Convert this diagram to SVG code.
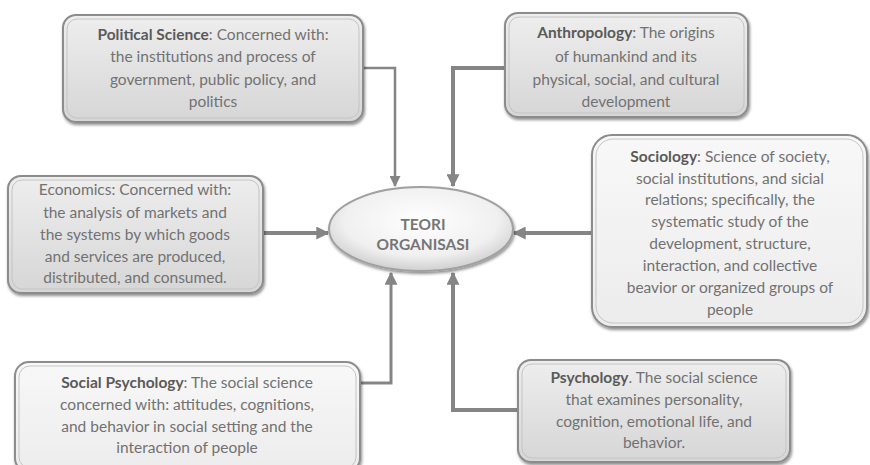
<svg xmlns="http://www.w3.org/2000/svg" width="870" height="465" viewBox="0 0 870 465">
  <defs>
    <linearGradient id="boxFillDark" x1="0" y1="0" x2="0" y2="1">
      <stop offset="0" stop-color="#eeeeee"/>
      <stop offset="1" stop-color="#d6d6d6"/>
    </linearGradient>
    <linearGradient id="boxFillLight" x1="0" y1="0" x2="0" y2="1">
      <stop offset="0" stop-color="#f8f8f8"/>
      <stop offset="1" stop-color="#ececec"/>
    </linearGradient>
    <radialGradient id="hubFill" cx="0.5" cy="0.4" r="0.6">
      <stop offset="0" stop-color="#ffffff"/>
      <stop offset="0.7" stop-color="#f0f0f0"/>
      <stop offset="1" stop-color="#cfcfcf"/>
    </radialGradient>
    <filter id="shadow" x="-10%" y="-10%" width="125%" height="130%">
      <feGaussianBlur in="SourceAlpha" stdDeviation="1.5"/>
      <feOffset dx="1" dy="2" result="b"/>
      <feComponentTransfer><feFuncA type="linear" slope="0.45"/></feComponentTransfer>
      <feMerge><feMergeNode/><feMergeNode in="SourceGraphic"/></feMerge>
    </filter>
    <marker id="head" viewBox="0 0 10 10" refX="9" refY="5" markerWidth="13" markerHeight="13" markerUnits="userSpaceOnUse" orient="auto">
      <path d="M0,0 L10,5 L0,10 Z" fill="#858585"/>
    </marker>
    <marker id="headSmall" viewBox="0 0 10 10" refX="9" refY="5" markerWidth="11" markerHeight="11" markerUnits="userSpaceOnUse" orient="auto">
      <path d="M0,0 L10,5 L0,10 Z" fill="#858585"/>
    </marker>
  </defs>
  <style>
    .box { stroke: #8c8c8c; stroke-width: 2; filter: url(#shadow); }
    .inner { fill: none; stroke: #c4c4c4; stroke-width: 1; }
    .dark { fill: url(#boxFillDark); }
    .light { fill: url(#boxFillLight); }
    .txt { font-family: Lato, "Liberation Sans", sans-serif; font-size: 15.5px; fill: #727272; text-anchor: middle; }
    .b { font-weight: bold; fill: #5a5a5a; }
    .conn { fill: none; stroke: #858585; stroke-linejoin: miter; }
    .hubtxt { font-family: Lato, "Liberation Sans", sans-serif; font-size: 15.5px; font-weight: bold; fill: #767676; text-anchor: middle; }
  </style>

  <rect width="870" height="465" fill="#ffffff"/>

  <!-- connectors -->
  <g id="connectors">
    <path class="conn" d="M363,68 H395 V186" stroke-width="2.5" marker-end="url(#headSmall)"/>
    <path class="conn" d="M505,68 H453 V186" stroke-width="4" marker-end="url(#head)"/>
    <path class="conn" d="M263,233 H328" stroke-width="4" marker-end="url(#head)"/>
    <path class="conn" d="M592,233 H514" stroke-width="4" marker-end="url(#head)"/>
    <path class="conn" d="M360,383 H391 V273" stroke-width="3" marker-end="url(#head)"/>
    <path class="conn" d="M518,410 H453 V273" stroke-width="4" marker-end="url(#head)"/>
  </g>

  <!-- central node -->
  <g id="hub">
    <ellipse cx="421" cy="229" rx="92" ry="42" fill="url(#hubFill)" stroke="#a0a0a0" stroke-width="2" filter="url(#shadow)"/>
    <text class="hubtxt" x="423" y="230">TEORI</text>
    <text class="hubtxt" x="423" y="250">ORGANISASI</text>
  </g>

  <g id="political-science">
    <rect class="box dark" x="63" y="15" width="300" height="107" rx="13"/>
    <rect class="inner" x="67" y="19" width="292" height="99" rx="10"/>
    <text class="txt" x="213" y="40"><tspan class="b">Political Science</tspan>: Concerned with:</text>
    <text class="txt" x="213" y="62">the institutions and process of</text>
    <text class="txt" x="213" y="85">government, public policy, and</text>
    <text class="txt" x="213" y="107">politics</text>
  </g>

  <g id="anthropology">
    <rect class="box dark" x="505" y="13" width="243" height="104" rx="13"/>
    <rect class="inner" x="509" y="17" width="235" height="96" rx="10"/>
    <text class="txt" x="626" y="38"><tspan class="b">Anthropology</tspan>: The origins</text>
    <text class="txt" x="626" y="62">of humankind and its</text>
    <text class="txt" x="626" y="85">physical, social, and cultural</text>
    <text class="txt" x="626" y="107">development</text>
  </g>

  <g id="economics">
    <rect class="box dark" x="8" y="176" width="255" height="117" rx="13"/>
    <rect class="inner" x="12" y="180" width="247" height="109" rx="10"/>
    <text class="txt" x="135" y="195">Economics: Concerned with:</text>
    <text class="txt" x="135" y="218">the analysis of markets and</text>
    <text class="txt" x="135" y="240">the systems by which goods</text>
    <text class="txt" x="135" y="262">and services are produced,</text>
    <text class="txt" x="135" y="283">distributed, and consumed.</text>
  </g>

  <g id="sociology">
    <rect class="box light" x="592" y="135" width="275" height="192" rx="20"/>
    <rect class="inner" x="596" y="139" width="267" height="184" rx="17"/>
    <text class="txt" x="730" y="162"><tspan class="b">Sociology</tspan>: Science of society,</text>
    <text class="txt" x="730" y="184">social institutions, and sicial</text>
    <text class="txt" x="730" y="205">relations; specifically, the</text>
    <text class="txt" x="730" y="227">systematic study of the</text>
    <text class="txt" x="730" y="249">development, structure,</text>
    <text class="txt" x="730" y="271">interaction, and collective</text>
    <text class="txt" x="730" y="293">beavior or organized groups of</text>
    <text class="txt" x="730" y="315">people</text>
  </g>

  <g id="social-psychology">
    <rect class="box light" x="15" y="362" width="345" height="110" rx="14"/>
    <rect class="inner" x="19" y="366" width="337" height="102" rx="11"/>
    <text class="txt" x="187" y="388"><tspan class="b">Social Psychology</tspan>: The social science</text>
    <text class="txt" x="187" y="410">concerned with: attitudes, cognitions,</text>
    <text class="txt" x="187" y="432">and behavior in social setting and the</text>
    <text class="txt" x="187" y="453">interaction of people</text>
  </g>

  <g id="psychology">
    <rect class="box dark" x="518" y="360" width="272" height="102" rx="13"/>
    <rect class="inner" x="522" y="364" width="264" height="94" rx="10"/>
    <text class="txt" x="654" y="383"><tspan class="b">Psychology</tspan>. The social science</text>
    <text class="txt" x="654" y="405">that examines personality,</text>
    <text class="txt" x="654" y="427">cognition, emotional life, and</text>
    <text class="txt" x="654" y="448">behavior.</text>
  </g>
</svg>
